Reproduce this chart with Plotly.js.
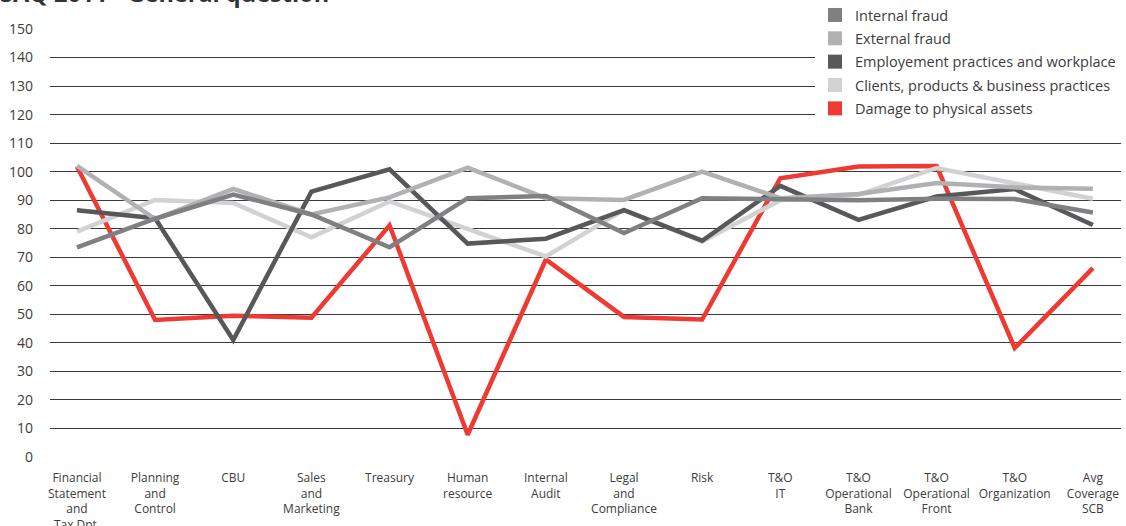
<!DOCTYPE html>
<html>
<head>
<meta charset="utf-8">
<script src="https://cdn.plot.ly/plotly-3.0.1.min.js"></script>
<style>html,body{margin:0;padding:0;background:#fff;}#chart{width:1126px;height:526px;}</style>
</head>
<body>
<div id="chart"></div>
<script>
var categories = [
  "Financial<br>Statement<br>and<br>Tax Dpt.",
  "Planning<br>and<br>Control",
  "CBU",
  "Sales<br>and<br>Marketing",
  "Treasury",
  "Human<br>resource",
  "Internal<br>Audit",
  "Legal<br>and<br>Compliance",
  "Risk",
  "T&O<br>IT",
  "T&O<br>Operational<br>Bank",
  "T&O<br>Operational<br>Front",
  "T&O<br>Organization",
  "Avg<br>Coverage<br>SCB"
];
var seriesNames = [
  "Internal fraud",
  "External fraud",
  "Employement practices and workplace",
  "Clients, products & business practices",
  "Damage to physical assets"
];
var internalFraud   = [73.5, 83.5, 92, 85, 73.5, 90.7, 91.5, 78.5, 90.7, 90.5, 90, 90.5, 90.4, 85.7];
var externalFraud   = [102, 83.4, 94, 85, 91, 101.4, 90.7, 90.1, 100, 90.7, 92.2, 96, 94.5, 94];
var employment      = [86.5, 83.7, 41, 93, 100.8, 74.8, 76.5, 86.5, 75.8, 95, 83.1, 91.3, 93.9, 81.3];
var clients         = [79, 90.1, 89, 77, 89.6, 79.8, 70.3, 86.6, 75.5, 90, 91.9, 101.3, 96, 90.5];
var damage          = [101.8, 48, 49.5, 48.8, 81.2, 7.8, 69.2, 49.1, 48.2, 97.7, 101.8, 102, 38.2, 66.2];
var yTicks = [0, 10, 20, 30, 40, 50, 60, 70, 80, 90, 100, 110, 120, 130, 140, 150];

var colors = ["#808083", "#b1b1b4", "#58585a", "#d1d2d4", "#ee3a32"];
var values = [internalFraud, externalFraud, employment, clients, damage];
var xIdx = categories.map(function(c, i){ return i; });

var traces = [];
var drawOrder = [4, 3, 2, 1, 0];
drawOrder.forEach(function(k){
  traces.push({
    type: "scatter", mode: "lines", x: xIdx, y: values[k],
    line: {color: colors[k], width: 4.5},
    showlegend: false, hoverinfo: "skip", name: seriesNames[k]
  });
});
seriesNames.forEach(function(n, k){
  traces.push({
    type: "scatter", mode: "markers", x: [null], y: [null], name: n,
    legendgroup: "g" + k,
    marker: {symbol: "square", size: 14, color: colors[k]},
    showlegend: true
  });
});

var layout = {
  width: 1126, height: 526,
  margin: {l: 50, r: 5, t: 29, b: 69, pad: 0, autoexpand: false},
  paper_bgcolor: "#ffffff", plot_bgcolor: "#ffffff",
  font: {family: "Open Sans, sans-serif", color: "#3c3c3c", size: 12},
  title: {
    text: "<b>SAQ 2011 - General question</b>",
    font: {family: "Open Sans, sans-serif", size: 23.5, color: "#333333"},
    x: 0, xref: "container", xanchor: "left",
    y: 0.9955, yref: "container", yanchor: "bottom"
  },
  xaxis: {
    range: [-0.345, 13.36], tickmode: "array", tickvals: xIdx, ticktext: categories,
    showgrid: false, zeroline: false, showline: false, ticks: "",
    tickfont: {size: 12, color: "#3c3c3c"}, ticklabelstandoff: 12, fixedrange: true
  },
  yaxis: {
    range: [0, 150], tickmode: "array", tickvals: yTicks,
    showgrid: true, gridcolor: "#3a3a3a", gridwidth: 1, zeroline: false, showline: false,
    ticks: "", tickfont: {size: 14, color: "#3c3c3c"}, ticklabelstandoff: 16, fixedrange: true
  },
  showlegend: true,
  legend: {
    x: 1, xref: "paper", xanchor: "right", y: 1.070, yanchor: "top",
    bgcolor: "#ffffff", borderwidth: 0,
    font: {size: 14.5, color: "#3c3c3c"},
    tracegroupgap: 1.5, traceorder: "grouped", itemwidth: 30
  }
};

Plotly.newPlot("chart", traces, layout, {displayModeBar: false, staticPlot: true});
</script>
</body>
</html>
